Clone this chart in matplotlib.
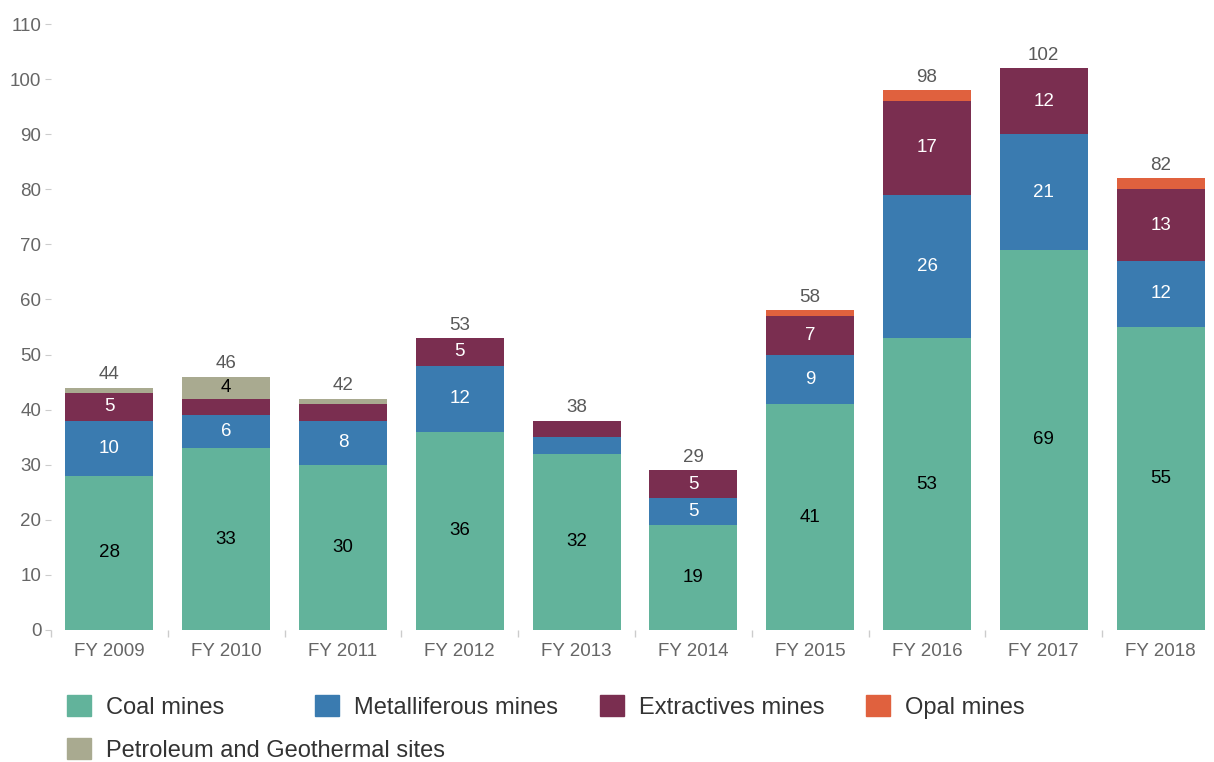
import matplotlib.pyplot as plt
from matplotlib.patches import Patch
import numpy as np

plt.rcParams['font.family'] = ['Liberation Sans', 'DejaVu Sans']

years = ['FY 2009', 'FY 2010', 'FY 2011', 'FY 2012', 'FY 2013',
         'FY 2014', 'FY 2015', 'FY 2016', 'FY 2017', 'FY 2018']
coal = [28, 33, 30, 36, 32, 19, 41, 53, 69, 55]
metal = [10, 6, 8, 12, 3, 5, 9, 26, 21, 12]
extract = [5, 3, 3, 5, 3, 5, 7, 17, 12, 13]
opal = [0, 0, 0, 0, 0, 0, 1, 2, 0, 2]
petrol = [1, 4, 1, 0, 0, 0, 0, 0, 0, 0]

series = [
    ('Coal mines', coal, '#62b39b', 'black'),
    ('Metalliferous mines', metal, '#3a7bb0', 'white'),
    ('Extractives mines', extract, '#7a2e50', 'white'),
    ('Opal mines', opal, '#e0613e', 'white'),
    ('Petroleum and Geothermal sites', petrol, '#a9aa90', 'black'),
]

fig = plt.figure(figsize=(12.14, 7.62), dpi=100)
ax = fig.add_axes([51 / 1214, 1 - 630 / 762, 1168 / 1214, 617 / 762])

x = np.arange(len(years))
bottom = np.zeros(len(years))
for name, vals, col, tcol in series:
    vals = np.array(vals, dtype=float)
    ax.bar(x, vals, 0.755, bottom=bottom, color=col, label=name)
    for i, v in enumerate(vals):
        if v >= 4:
            ax.text(x[i], bottom[i] + v / 2, f'{int(v)}', ha='center', va='center',
                    fontsize=13.5, color=tcol)
    bottom += vals

for i, t in enumerate(bottom):
    ax.annotate(f'{int(t)}', (x[i], t), xytext=(0, 3), textcoords='offset points',
                ha='center', va='bottom', fontsize=13.5, color='#595959')

ax.set_xlim(-0.5, len(years) - 0.5)
ax.set_ylim(0, 112)
ax.set_yticks(range(0, 111, 10))
ax.set_xticks(x)
ax.set_xticklabels(years)
ax.set_xticks(np.arange(-0.5, len(years), 1.0), minor=True)
ax.tick_params(axis='x', which='major', length=0, pad=9, labelsize=13.5, labelcolor='#666666')
ax.tick_params(axis='x', which='minor', length=5, color='#cccccc', width=1)
ax.tick_params(axis='y', length=4, color='#cccccc', pad=3, labelsize=13.5, labelcolor='#666666')
for s in ax.spines.values():
    s.set_visible(False)

# legend laid out like the reference: four on first row, one on second
spots = [(67, 695), (315, 695), (600, 695), (866, 695), (67, 738)]
for (name, vals, col, tcol), (px, py) in zip(series, spots):
    fig.legend(handles=[Patch(color=col, label=name)], loc='upper left',
               bbox_to_anchor=(px / 1214, 1 - py / 762), frameon=False,
               borderpad=0, borderaxespad=0, handlelength=1.0, handleheight=1.0,
               handletextpad=0.65, fontsize=17, labelcolor='#333333')

fig.savefig('out.png', dpi=100)
